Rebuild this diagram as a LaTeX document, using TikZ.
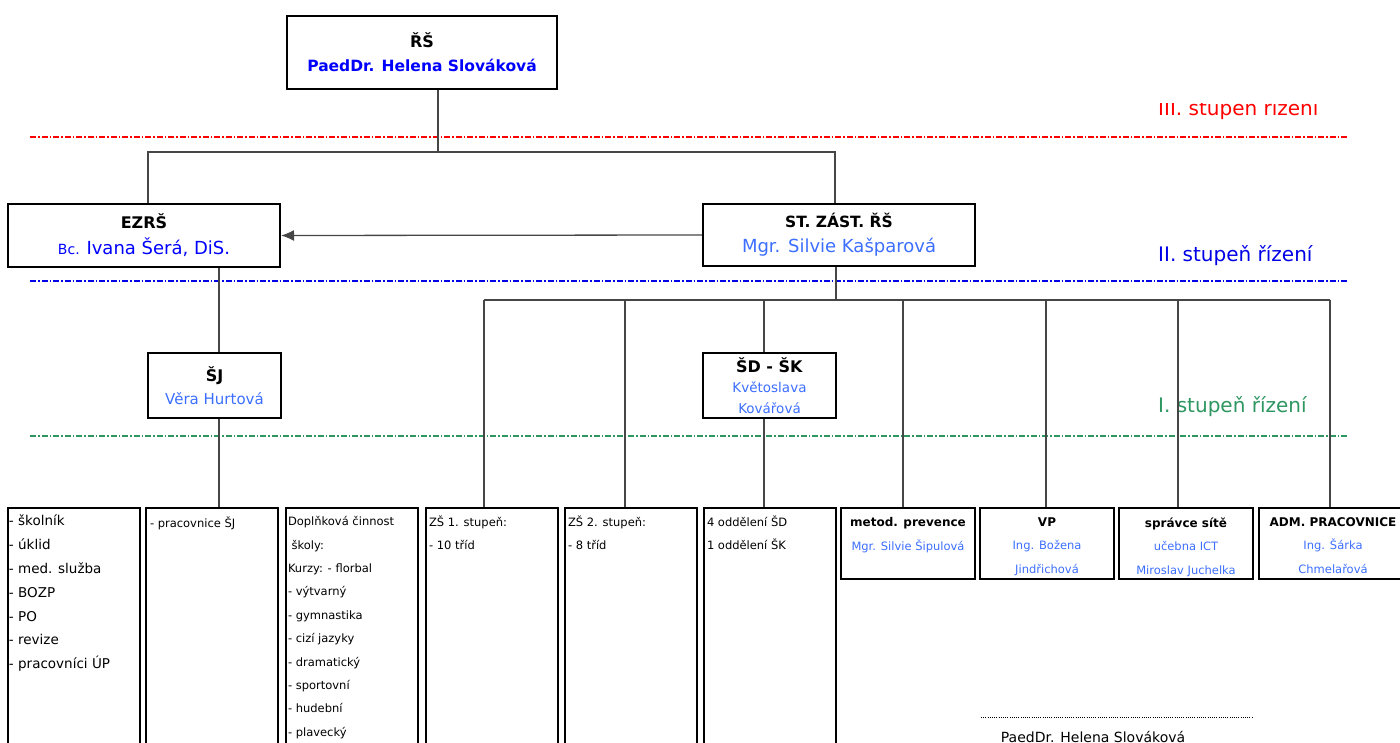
\documentclass[tikz,border=0pt]{standalone}
\usepackage{fontspec}
\setmainfont{DejaVu Sans}
\usetikzlibrary{arrows, arrows.meta, calc, positioning}

\definecolor{topblue}{RGB}{0,0,255}
\definecolor{nameblue}{RGB}{60,110,255}
\definecolor{lvlred}{RGB}{255,0,0}
\definecolor{lvlblue}{RGB}{0,0,230}
\definecolor{lvlgreen}{RGB}{46,150,96}
\definecolor{conngray}{RGB}{70,70,70}

\newcommand{\fsz}[2]{\fontsize{#1}{#2}\selectfont}
\newcommand{\ttl}[1]{\textcolor{black}{\textbf{#1}}}

\begin{document}
\begin{tikzpicture}
[
	x=1pt, y=-1pt,
	hb/.style={rectangle,draw,line width=2,inner sep=0pt,align=center},
	col/.style={rectangle,draw,line width=2.4,inner sep=0pt,minimum width=132,minimum height=260},
	sm/.style={rectangle,draw,line width=2.4,inner sep=0pt,minimum width=134,minimum height=71},
	lst/.style={inner sep=0pt,align=left},
	captxt/.style={inner sep=0pt,align=center,text=nameblue,font=\fsz{11.5}{23.5}},
	conn/.style={draw=conngray,line width=1.3},
	lvl/.style={line width=1.2,dash pattern=on 6pt off 2pt on 1.5pt off 2pt}
]

\useasboundingbox (0,0) rectangle (1400,743);
\clip (0,0) rectangle (1400,743);

% levels
\draw[lvl,draw=lvlred] (30,137) -- (1348,137);
\draw[lvl,draw=lvlblue] (30,281) -- (1348,281);
\draw[lvl,draw=lvlgreen] (30,436) -- (1348,436);

\begin{scope}
\clip (1100,104) rectangle (1400,130);
\node[anchor=base west,text=lvlred,font=\fsz{20}{20},inner sep=0pt] (lev3) at (1158,116) {III. stupeň řízení};
\end{scope}
\node[anchor=base west,text=lvlblue,font=\fsz{20}{20},inner sep=0pt] (lev2) at (1158,262) {II. stupeň řízení};
\node[anchor=base west,text=lvlgreen,font=\fsz{20}{20},inner sep=0pt] (lev1) at (1158,412) {I. stupeň řízení};

% management
\node[hb,minimum width=270,minimum height=73,text=topblue,font=\fsz{16}{24}] (rs) at (422,52.5)
	{\ttl{ŘŠ}\\\textbf{\fsz{15.5}{24}PaedDr. Helena Slováková}};
\node[hb,minimum width=272,minimum height=63,text=topblue,font=\fsz{16}{26}] (ezrs) at (144,235.5)
	{\ttl{EZRŠ}\\{\fsz{14}{26}Bc.} {\fsz{18}{26}Ivana Šerá, DiS.}};
\node[hb,minimum width=272,minimum height=62,text=nameblue,font=\fsz{15.5}{25}] (st) at (839,235)
	{\ttl{ST. ZÁST. ŘŠ}\\{\fsz{18}{25}Mgr. Silvie Kašparová}};
\node[hb,minimum width=133,minimum height=65,text=nameblue,font=\fsz{16}{23}] (sj) at (214.5,385.5)
	{\ttl{ŠJ}\\{\fsz{15}{23}Věra Hurtová}};
\node[hb,minimum width=133,minimum height=65,text=nameblue,font=\fsz{13.5}{20.5}] (sdsk) at (769.5,385.5)
	{\ttl{\fsz{16}{20.5}ŠD - ŠK}\\Květoslava\\Kovářová};

% columns
\node[col] (b1) at (74,638) {};
\node[col] (b2) at (212,638) {};
\node[col] (b3) at (352,638) {};
\node[col] (b4) at (492,638) {};
\node[col] (b5) at (631,638) {};
\node[col] (b6) at (770,638) {};
\node[sm] (b7) at (908,543.5) {};
\node[sm] (b8) at (1047,543.5) {};
\node[sm] (b9) at (1186,543.5) {};
\node[sm,minimum width=148] (b10) at (1333,543.5) {};

\node[lst,font=\fsz{13.5}{23.8},below right=8pt and 2pt of b1.north west] (tx1)
	{- školník\\- úklid\\- med. služba\\- BOZP\\- PO\\- revize\\- pracovníci ÚP};
\node[lst,font=\fsz{11.5}{23.4},below right=9.5pt and 5pt of b2.north west] (tx2)
	{- pracovnice ŠJ};
\node[lst,font=\fsz{11.5}{23.4},below right=9.5pt and 3pt of b3.north west] (tx3)
	{Doplňková činnost\\\ školy:\\Kurzy: - florbal\\- výtvarný\\- gymnastika\\- cizí jazyky\\- dramatický\\- sportovní\\- hudební\\- plavecký};
\node[lst,font=\fsz{11.5}{23.4},below right=8.5pt and 4pt of b4.north west] (tx4)
	{ZŠ 1. stupeň:\\- 10 tříd};
\node[lst,font=\fsz{11.5}{23.4},below right=8.5pt and 4pt of b5.north west] (tx5)
	{ZŠ 2. stupeň:\\- 8 tříd};
\node[lst,font=\fsz{11.5}{23.4},below right=8.5pt and 4pt of b6.north west] (tx6)
	{4 oddělení ŠD\\1 oddělení ŠK};

\node[captxt,below=10.5pt of b7.north] (tx7) {\ttl{\fsz{12}{23.5}metod. prevence}\\Mgr. Silvie Šipulová};
\node[captxt,below=10.5pt of b8.north] (tx8) {\ttl{\fsz{12}{23.5}VP}\\Ing. Božena\\Jindřichová};
\node[captxt,below=10.5pt of b9.north] (tx9) {\ttl{\fsz{12}{23.5}správce sítě}\\učebna ICT\\Miroslav Juchelka};
\node[captxt,below=10.5pt of b10.north] (tx10) {\ttl{\fsz{12}{23.5}ADM. PRACOVNICE}\\Ing. Šárka\\Chmelařová};

% connectors
\coordinate (j0) at (438,152);
\coordinate (jl) at (148,152);
\coordinate (jr) at (835,152);
\draw[conn] (rs.south -| j0) -- (j0);
\draw[conn] (ezrs.north -| jl) |- (jr) -- (st.north -| jr);
\draw[conn,-{Latex[length=13pt,width=11pt]}] (st.west) -- (ezrs.east);

\coordinate (sx) at (219,300);
\draw[conn] (ezrs.south -| sx) -- (sj.north -| sx);
\draw[conn] (sj.south -| sx) -- (b2.north -| sx);

\coordinate (k) at (836,300);
\draw[conn] (st.south -| k) -- (k);
\foreach \i/\x in {4/484, 5/625, 6/764, 7/903, 8/1046, 9/1178, 10/1330}
	\coordinate (t\i) at (\x,300);
\draw[conn,line width=1.6] (t4) -- (t10);
\foreach \i in {4,5,7,8,9,10}
	\draw[conn] (t\i) -- (t\i |- b\i.north);
\draw[conn] (t6) -- (t6 |- sdsk.north);
\draw[conn] (sdsk.south -| t6) -- (b6.north -| t6);

% signature
\coordinate (sgl) at (981,717);
\coordinate (sgr) at (1252,717);
\draw[line width=0.8,dash pattern=on 1pt off 1.2pt] (sgl) -- (sgr);
\node[anchor=base,font=\fsz{14}{14},inner sep=0pt] (sig) at (1093,742) {PaedDr. Helena Slováková};

\end{tikzpicture}
\end{document}
